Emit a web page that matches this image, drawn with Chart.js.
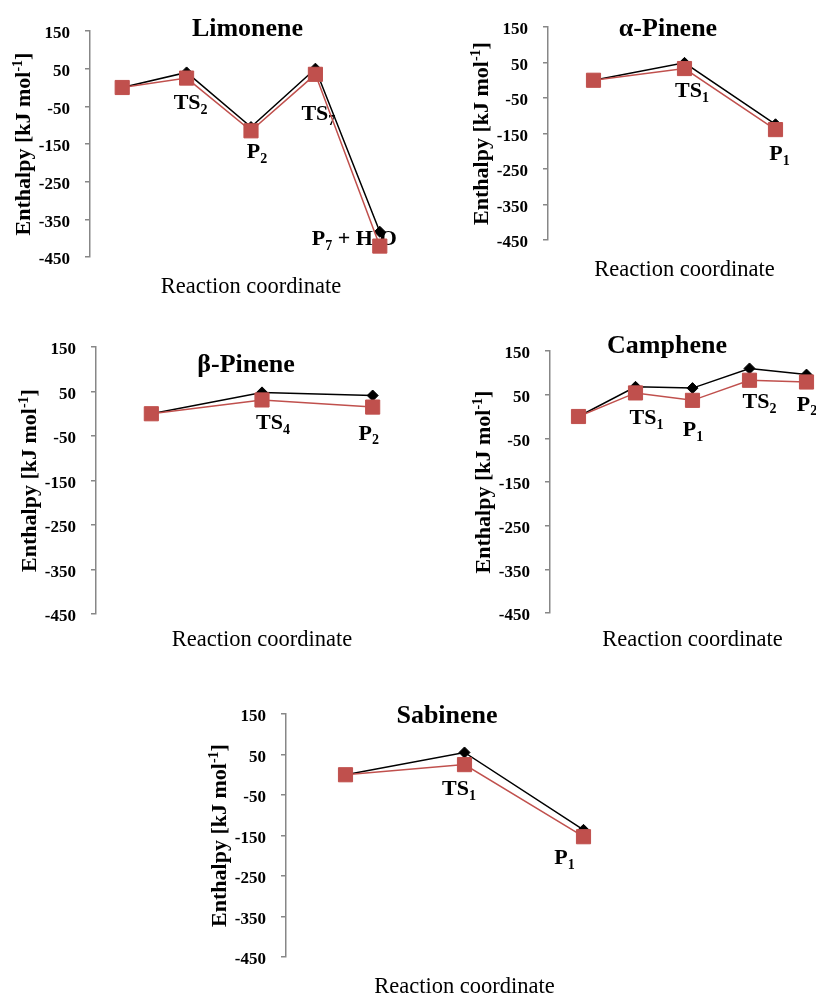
<!DOCTYPE html>
<html>
<head>
<meta charset="utf-8">
<title>Enthalpy profiles</title>
<script src="https://cdn.jsdelivr.net/npm/chart.js@4.4.1/dist/chart.umd.min.js"></script>
<style>
  html, body { margin: 0; padding: 0; background: #fff; overflow: hidden; width: 816px; height: 999px; }
  .box { position: absolute; }
</style>
</head>
<body>
<div class="box" id="box-limonene"><canvas id="limonene"></canvas></div>
<div class="box" id="box-alpha"><canvas id="alpha"></canvas></div>
<div class="box" id="box-beta"><canvas id="beta"></canvas></div>
<div class="box" id="box-camphene"><canvas id="camphene"></canvas></div>
<div class="box" id="box-sabinene"><canvas id="sabinene"></canvas></div>
<script>
// y axis, kJ/mol
const yMin = -450;
const yMax = 150;
const yStep = 100;

// point names along the reaction coordinate (_{} = subscript)
const limoneneLabels = ['', 'TS_{2}', 'P_{2}', 'TS_{7}', 'P_{7} + H_{2}O'];
const alphaLabels = ['', 'TS_{1}', 'P_{1}'];
const betaLabels = ['', 'TS_{4}', 'P_{2}'];
const campheneLabels = ['', 'TS_{1}', 'P_{1}', 'TS_{2}', 'P_{2}'];
const sabineneLabels = ['', 'TS_{1}', 'P_{1}'];

// black diamonds / red squares
const limoneneBlack = [0, 40, -105, 50, -383];
const limoneneRed = [0, 25, -115, 35, -421];
const alphaBlack = [0, 49, -124];
const alphaRed = [0, 33, -139];
const betaBlack = [0, 48, 41];
const betaRed = [0, 31, 15];
const campheneBlack = [0, 68, 65, 110, 96];
const campheneRed = [0, 54, 37, 83, 79];
const sabineneBlack = [0, 55, -136];
const sabineneRed = [0, 25, -153];

// PAD_R must be >= the point overflow Chart.js reserves (~11px) or the plot shrinks
const PAD_L = 30, PAD_T = 30, PAD_R = 12, Y_W = 60, X_H = 50;
const SERIF = '"Liberation Serif", "Times New Roman", serif';
const RED = '#C0504D';
const GREY = '#878787';

// area = [left, top, width, height] of the plot box on the page
// off = label offset from the black point (centre x, baseline y)
const panels = [
  { id: 'limonene', title: 'Limonene', labels: limoneneLabels, black: limoneneBlack, red: limoneneRed,
    area: [90, 31, 322, 226], titleAt: [-3.5, 5], xPad: 6,
    off: [null, [4, 37], [6, 31], [3, 51], [-25.5, 13]] },
  { id: 'alpha', title: 'α-Pinene', labels: alphaLabels, black: alphaBlack, red: alphaRed,
    area: [548, 27, 273, 213], titleAt: [-16.5, 9], xPad: 6,
    off: [null, [7.5, 34], [4, 36]] },
  { id: 'beta', title: 'β-Pinene', labels: betaLabels, black: betaBlack, red: betaRed,
    area: [96, 347, 332, 267], titleAt: [-16, 25], xPad: 10,
    off: [null, [11, 37], [-4, 44]] },
  { id: 'camphene', title: 'Camphene', labels: campheneLabels, black: campheneBlack, red: campheneRed,
    area: [550, 351, 285, 262], titleAt: [-25.5, 2], xPad: 9,
    off: [null, [11, 37], [0.5, 48], [10, 40], [0.5, 36]] },
  { id: 'sabinene', title: 'Sabinene', labels: sabineneLabels, black: sabineneBlack, red: sabineneRed,
    area: [286, 714, 357, 243], titleAt: [-17.5, 9], xPad: 6,
    off: [null, [-5.5, 43], [-19, 34]] }
];

function richParts(str) {
  const parts = [];
  const re = /([_^])\{([^}]*)\}/g;
  let last = 0, m;
  while ((m = re.exec(str))) {
    if (m.index > last) parts.push({ t: str.slice(last, m.index), k: '' });
    parts.push({ t: m[2], k: m[1] });
    last = re.lastIndex;
  }
  if (last < str.length) parts.push({ t: str.slice(last), k: '' });
  return parts;
}

// centred text with sub/superscripts, y is the baseline
function drawRich(ctx, str, x, y, size, weight) {
  const parts = richParts(str);
  const small = Math.round(size * 0.65);
  const fontFor = k => weight + ' ' + (k ? small : size) + 'px ' + SERIF;
  let w = 0;
  parts.forEach(p => { ctx.font = fontFor(p.k); p.w = ctx.measureText(p.t).width; w += p.w; });
  let cx = x - w / 2;
  ctx.textAlign = 'left';
  ctx.textBaseline = 'alphabetic';
  parts.forEach(p => {
    ctx.font = fontFor(p.k);
    const dy = p.k === '_' ? size * 0.22 : p.k === '^' ? -size * 0.38 : 0;
    ctx.fillText(p.t, cx, y + dy);
    cx += p.w;
  });
}

function annotate(p) {
  return {
    id: 'annotate-' + p.id,
    beforeDatasetsDraw(chart) {
      const { ctx, chartArea } = chart;
      const pts = chart.getDatasetMeta(0).data;
      ctx.save();
      ctx.fillStyle = '#000';
      // panel title
      drawRich(ctx, p.title, (chartArea.left + chartArea.right) / 2 + p.titleAt[0], chartArea.top + p.titleAt[1], 26, 'bold');
      // y axis title, rotated
      ctx.save();
      ctx.translate(chartArea.left - 60, (chartArea.top + chartArea.bottom) / 2);
      ctx.rotate(-Math.PI / 2);
      drawRich(ctx, 'Enthalpy [kJ mol^{-1}]', 0, 0, 22, 'bold');
      ctx.restore();
      // point names
      p.labels.forEach((txt, i) => {
        const o = p.off[i];
        if (!txt || !o) return;
        drawRich(ctx, txt, pts[i].x + o[0], pts[i].y + o[1], 22, 'bold');
      });
      ctx.restore();
    }
  };
}

function buildChart(p) {
  const box = document.getElementById('box-' + p.id);
  const [aL, aT, aW, aH] = p.area;
  box.style.left = (aL - PAD_L - Y_W) + 'px';
  box.style.top = (aT - PAD_T) + 'px';
  box.style.width = (PAD_L + Y_W + aW + PAD_R) + 'px';
  box.style.height = (PAD_T + aH + X_H) + 'px';

  new Chart(document.getElementById(p.id), {
    type: 'line',
    data: {
      labels: p.labels,
      datasets: [
        { label: 'Set 1', data: p.black, borderColor: '#000', backgroundColor: '#000', borderWidth: 1.5,
          pointStyle: 'rectRot', pointRadius: 5.5, pointBorderWidth: 1, order: 2 },
        { label: 'Set 2', data: p.red, borderColor: RED, backgroundColor: RED, borderWidth: 1.5,
          pointStyle: 'rect', pointRadius: 10, pointBorderWidth: 1, order: 1 }
      ]
    },
    options: {
      responsive: true,
      maintainAspectRatio: false,
      animation: false,
      layout: { padding: { left: PAD_L, top: PAD_T, right: PAD_R, bottom: 0 } },
      plugins: { legend: { display: false }, tooltip: { enabled: false } },
      scales: {
        x: {
          type: 'category',
          offset: true,
          grid: { display: false, drawTicks: false },
          border: { display: false },
          ticks: { display: false },
          title: {
            display: true,
            text: 'Reaction coordinate',
            color: '#000',
            font: { family: SERIF, size: 22.5, weight: 'normal' },
            padding: { top: 0, bottom: p.xPad }
          },
          afterFit: s => { s.height = X_H; }
        },
        y: {
          min: yMin,
          max: yMax,
          grid: { display: true, drawOnChartArea: false, drawTicks: true, tickLength: 5, color: GREY, lineWidth: 1.5 },
          border: { display: true, color: GREY, width: 1.5 },
          ticks: {
            stepSize: yStep,
            color: '#000',
            padding: 15,
            labelOffset: 3,
            font: { family: SERIF, size: 17, weight: 'bold' }
          },
          afterFit: s => { s.width = Y_W; }
        }
      }
    },
    plugins: [annotate(p)]
  });
}

panels.forEach(buildChart);
</script>
</body>
</html>
